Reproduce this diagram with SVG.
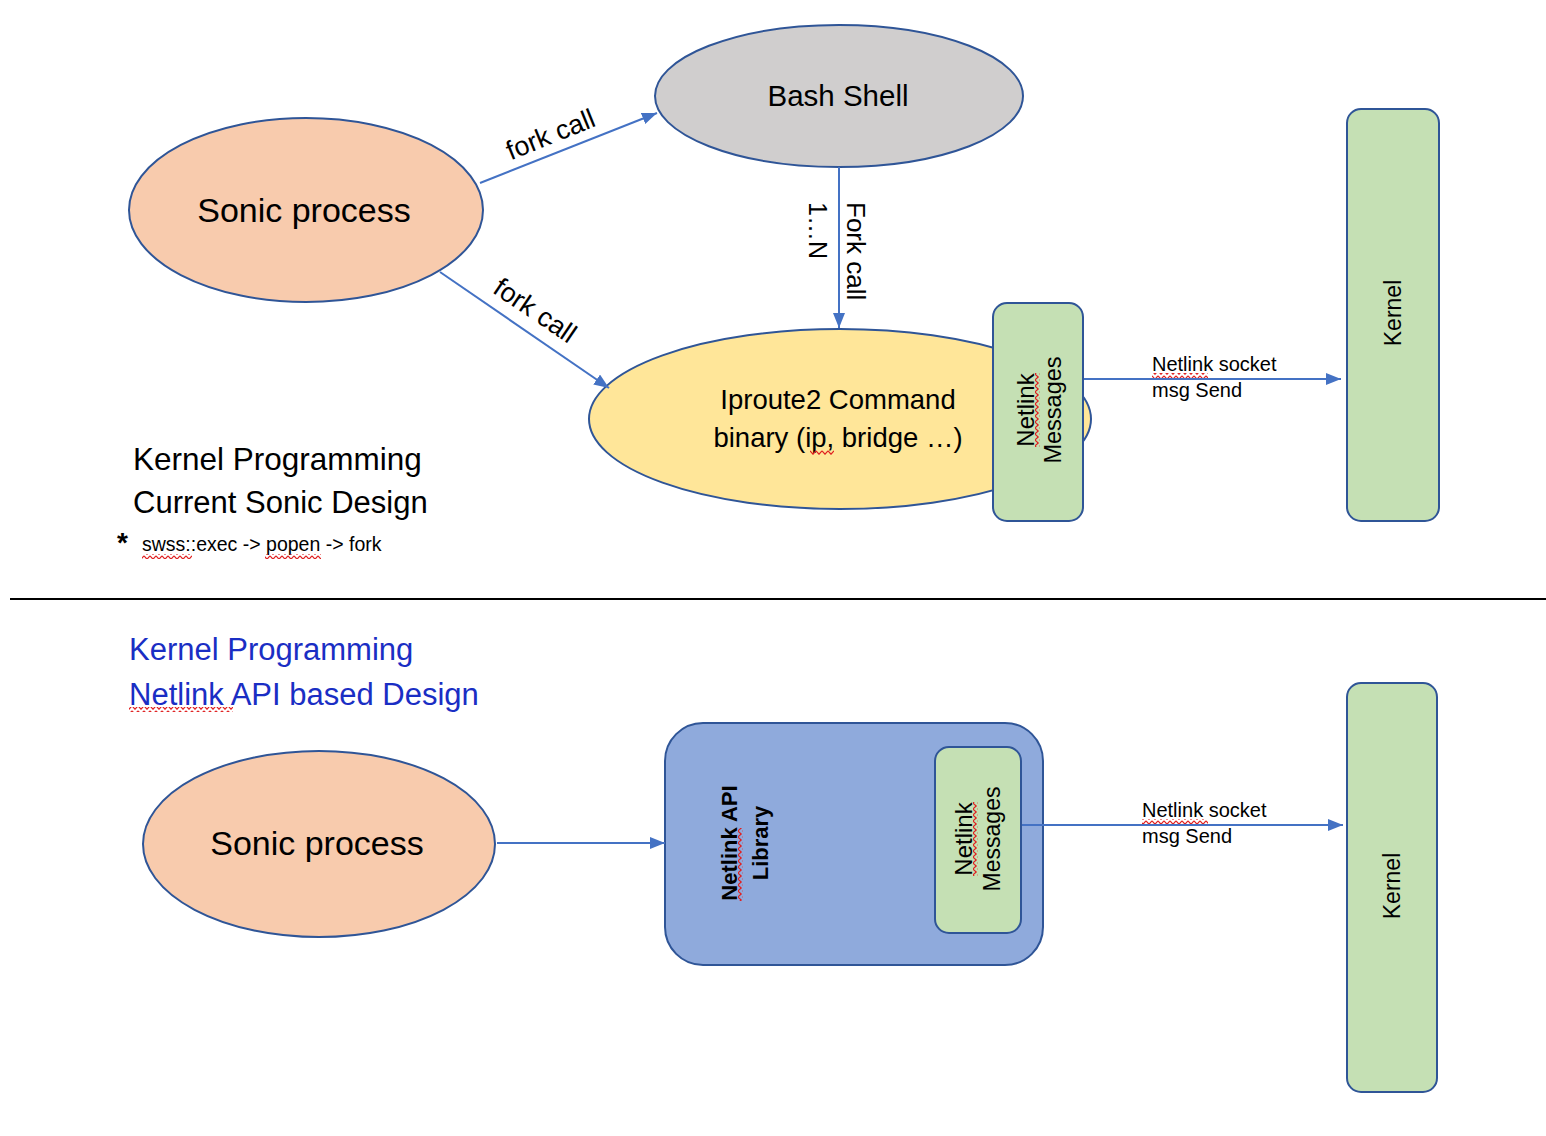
<svg xmlns="http://www.w3.org/2000/svg" width="1546" height="1136" viewBox="0 0 1546 1136">
<style>
text{font-family:"Liberation Sans",Arial,sans-serif;fill:#000}
.node{stroke:#2F5597;stroke-width:2}
.peach{fill:#F8CBAD}
.grey{fill:#D0CECE}
.yellow{fill:#FFE699}
.green{fill:#C5E0B4}
.blue{fill:#8FAADC}
.conn{stroke:#4472C4;stroke-width:2;fill:none}
.mid{text-anchor:middle}
.title{fill:#1A2EC4}
.sq{fill:url(#squig)}
.lbl{font-size:20px}
</style>
<defs>
<marker id="arr" markerUnits="userSpaceOnUse" markerWidth="16" markerHeight="13" refX="15" refY="6" orient="auto">
<path d="M0,0 L15,6 L0,12 z" fill="#4472C4"/>
</marker>
<pattern id="squig" patternUnits="userSpaceOnUse" width="6" height="5">
<path d="M0,0.8 L3,4.2 L6,0.8" stroke="#E02020" stroke-width="1.2" fill="none"/>
</pattern>
</defs>
<rect width="1546" height="1136" fill="#fff"/>

<g id="sonic-top">
<ellipse class="node peach" cx="306" cy="210" rx="177" ry="92"/>
<text font-size="34" class="mid" x="304" y="222">Sonic process</text>
</g>

<g id="bash">
<ellipse class="node grey" cx="839" cy="96" rx="184" ry="71"/>
<text font-size="29.5" class="mid" x="838" y="106">Bash Shell</text>
</g>

<g id="iproute2">
<ellipse class="node yellow" cx="840" cy="419" rx="251" ry="90"/>
<text font-size="27.5" class="mid" x="838" y="409">Iproute2 Command</text>
<text font-size="27.5" class="mid" x="838" y="447">binary (ip, bridge …)</text>
<rect class="sq" x="810" y="450" width="24" height="5"/>
</g>

<g id="netlink-msgs-top">
<rect class="node green" x="993" y="303" width="90" height="218" rx="14"/>
<g transform="translate(1034,410) rotate(-90)">
<text font-size="24" class="mid" x="0" y="0">Netlink</text>
<text font-size="23.5" class="mid" x="0" y="27">Messages</text>
<rect class="sq" x="-37" y="1" width="74" height="5"/>
</g>
</g>

<g id="kernel-top">
<rect class="node green" x="1347" y="109" width="92" height="412" rx="14"/>
<text font-size="23" class="mid" transform="translate(1401,313) rotate(-90)">Kernel</text>
</g>

<g id="caption-top">
<text font-size="31.5" x="133" y="470">Kernel Programming</text>
<text font-size="31" x="133" y="513">Current Sonic Design</text>
<text font-size="28" font-weight="bold" x="117" y="552">*</text>
<text font-size="19.5" x="142" y="551">swss::exec -&gt; popen -&gt; fork</text>
<rect class="sq" x="142" y="554" width="50" height="5"/>
<rect class="sq" x="265" y="554" width="56" height="5"/>
</g>

<line id="separator" x1="10" y1="599" x2="1546" y2="599" stroke="#000" stroke-width="2"/>

<g id="caption-bottom">
<text font-size="31" class="title" x="129" y="660">Kernel Programming</text>
<text font-size="31" class="title" x="129" y="705">Netlink API based Design</text>
<rect class="sq" x="129" y="707" width="104" height="5"/>
</g>

<g id="sonic-bottom">
<ellipse class="node peach" cx="319" cy="844" rx="176" ry="93"/>
<text font-size="34" class="mid" x="317" y="855">Sonic process</text>
</g>

<g id="netlink-api-lib">
<rect class="node blue" x="665" y="723" width="378" height="242" rx="38"/>
<g transform="translate(737,843) rotate(-90)">
<text font-size="22" font-weight="bold" class="mid" x="0" y="0">Netlink API</text>
<text font-size="22" font-weight="bold" class="mid" x="0" y="31">Library</text>
<rect class="sq" x="-58" y="1" width="73" height="5"/>
</g>
</g>

<g id="netlink-msgs-bottom">
<rect class="node green" x="935" y="747" width="86" height="186" rx="14"/>
<g transform="translate(972,839) rotate(-90)">
<text font-size="24" class="mid" x="0" y="0">Netlink</text>
<text font-size="23" class="mid" x="0" y="28">Messages</text>
<rect class="sq" x="-37" y="1" width="74" height="5"/>
</g>
</g>

<g id="kernel-bottom">
<rect class="node green" x="1347" y="683" width="90" height="409" rx="14"/>
<text font-size="23" class="mid" transform="translate(1400,886) rotate(-90)">Kernel</text>
</g>

<g id="connectors">
<line class="conn" x1="480" y1="183" x2="657" y2="113" marker-end="url(#arr)"/>
<line class="conn" x1="440" y1="272" x2="609" y2="388" marker-end="url(#arr)"/>
<line class="conn" x1="839" y1="167" x2="839" y2="328" marker-end="url(#arr)"/>
<line class="conn" x1="1084" y1="379" x2="1341" y2="379" marker-end="url(#arr)"/>
<line class="conn" x1="497" y1="843" x2="665" y2="843" marker-end="url(#arr)"/>
<line class="conn" x1="1022" y1="825" x2="1343" y2="825" marker-end="url(#arr)"/>
<text font-size="27" class="mid" transform="translate(554,143) rotate(-22)">fork call</text>
<text font-size="27" class="mid" transform="translate(530,318) rotate(34)">fork call</text>
<text font-size="25" transform="translate(809,202) rotate(90)">1…N</text>
<text font-size="26" transform="translate(847,202) rotate(90)">Fork call</text>
<g id="lbl-top">
<text class="lbl" x="1152" y="371">Netlink socket</text>
<text class="lbl" x="1152" y="397">msg Send</text>
<rect class="sq" x="1152" y="373" width="56" height="5"/>
</g>
<g id="lbl-bottom">
<text class="lbl" x="1142" y="817">Netlink socket</text>
<text class="lbl" x="1142" y="843">msg Send</text>
<rect class="sq" x="1142" y="819" width="66" height="5"/>
</g>
</g>
</svg>
